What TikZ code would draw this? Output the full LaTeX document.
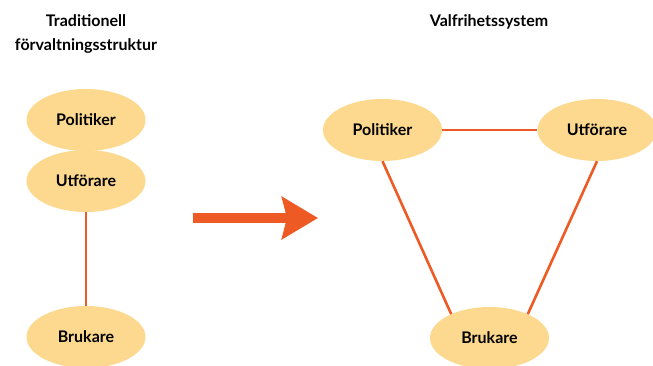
\documentclass[tikz,border=0pt]{standalone}
\usepackage{fontspec}
\setmainfont{Lato}
\usetikzlibrary{arrows.meta,shapes.geometric}
\definecolor{bubble}{HTML}{FDD98F}
\definecolor{link}{HTML}{EE5A24}
\begin{document}
\begin{tikzpicture}[x=1pt,y=-1pt,
  role/.style={ellipse, fill=bubble, minimum width=119pt, minimum height=62pt,
    inner sep=0pt, font=\fontsize{16}{18}\selectfont\bfseries},
  tie/.style={draw=link, line width=2.6pt},
  heading/.style={anchor=base, font=\fontsize{16}{18}\selectfont\bfseries}]
\useasboundingbox (0,0) rectangle (653,365);
\clip (0,0) rectangle (653,365);

% headings
\node[heading] (h1) at (86,26) {Traditionell};
\node[heading] (h1b) at (86,50) {förvaltningsstruktur};
\node[heading] (h2) at (489,26) {Valfrihetssystem};

% traditional structure
\node[role] (lpol) at (86,120) {Politiker};
\node[role] (lutf) at (86,181) {Utförare};
\node[role] (lbru) at (86,337) {Brukare};
\draw[tie] (lutf.south) -- (lbru.north);

% transition arrow
\coordinate (a0) at (193,218);
\coordinate (a1) at (318,218);
\draw[link, line width=10pt, -{Stealth[length=36pt, width=42pt, inset=5pt]}] (a0) -- (a1);

% choice system
\node[role] (rpol) at (382.5,130) {Politiker};
\node[role] (rutf) at (597,130) {Utförare};
\node[role] (rbru) at (489.5,338) {Brukare};
\draw[tie] (rpol.east) -- (rutf.west);
\draw[tie] (rpol.south) -- (rbru.148);
\draw[tie] (rutf.south) -- (rbru.32);
\end{tikzpicture}
\end{document}
